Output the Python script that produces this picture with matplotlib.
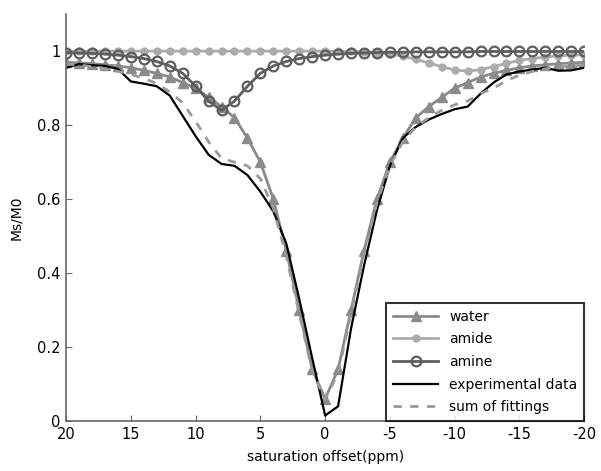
import matplotlib
matplotlib.use("Agg")
import matplotlib.pyplot as plt
import numpy as np

# saturation offsets (ppm), 20 down to -20
offset = list(range(20, -21, -1))

water = [0.970, 0.968, 0.966, 0.963, 0.960, 0.955, 0.948, 0.940, 0.930, 0.915,
         0.900, 0.875, 0.850, 0.820, 0.765, 0.700, 0.600, 0.460, 0.300, 0.140,
         0.060,
         0.140, 0.300, 0.460, 0.600, 0.700, 0.765, 0.820, 0.850, 0.875, 0.900,
         0.915, 0.930, 0.940, 0.948, 0.955, 0.960, 0.963, 0.966, 0.968, 0.970]

amide = [1.0, 1.0, 1.0, 1.0, 1.0, 1.0, 1.0, 1.0, 1.0, 1.0,
         1.0, 1.0, 1.0, 1.0, 1.0, 1.0, 1.0, 1.0, 1.0, 1.0,
         1.0,
         0.999, 0.999, 0.998, 0.996, 0.992, 0.986, 0.978, 0.968, 0.958, 0.949,
         0.946, 0.950, 0.958, 0.967, 0.975, 0.980, 0.984, 0.987, 0.989, 0.990]

amine = [0.996, 0.995, 0.994, 0.992, 0.989, 0.985, 0.980, 0.972, 0.960, 0.940,
         0.905, 0.865, 0.840, 0.865, 0.905, 0.940, 0.960, 0.972, 0.980, 0.985,
         0.989, 0.992, 0.994, 0.995, 0.996, 0.997, 0.997, 0.998, 0.998, 0.998,
         0.998, 0.998, 0.999, 0.999, 0.999, 0.999, 0.999, 0.999, 0.999, 0.999, 0.999]

experimental = [0.955, 0.965, 0.962, 0.960, 0.952, 0.918, 0.912, 0.905, 0.880, 0.825,
                0.770, 0.720, 0.695, 0.690, 0.665, 0.620, 0.567, 0.480, 0.330, 0.170,
                0.015,
                0.040, 0.250, 0.420, 0.570, 0.690, 0.765, 0.795, 0.815, 0.830, 0.843,
                0.850, 0.885, 0.915, 0.937, 0.945, 0.950, 0.955, 0.947, 0.948, 0.955]

fit_sum = [0.965, 0.963, 0.958, 0.953, 0.945, 0.937, 0.927, 0.912, 0.890, 0.860,
           0.810, 0.755, 0.710, 0.700, 0.690, 0.655, 0.575, 0.445, 0.290, 0.135,
           0.058,
           0.130, 0.290, 0.450, 0.590, 0.690, 0.755, 0.795, 0.820, 0.840, 0.855,
           0.865, 0.885, 0.900, 0.920, 0.935, 0.945, 0.952, 0.957, 0.960, 0.962]

xticks = [20, 15, 10, 5, 0, -5, -10, -15, -20]
yticks = [0, 0.2, 0.4, 0.6, 0.8, 1]

fig = plt.figure(figsize=(6.01, 4.71), dpi=100)
ax = fig.add_axes([0.11, 0.106, 0.862, 0.864])

ax.plot(offset, water, color="#8a8a8a", lw=2, marker="^", ms=7,
        mfc="#8a8a8a", mec="#8a8a8a", label="water")
ax.plot(offset, amide, color="#ababab", lw=2, marker="o", ms=5,
        mfc="#ababab", mec="#ababab", label="amide")
ax.plot(offset, amine, color="#5e5e5e", lw=2, marker="o", ms=7,
        mfc="none", mec="#5e5e5e", mew=1.6, label="amine")
ax.plot(offset, experimental, color="black", lw=1.6, label="experimental data")
ax.plot(offset, fit_sum, color="#9a9a9a", lw=2, ls=(0, (3, 3)), label="sum of fittings")

ax.set_xlim(20, -20)
ax.set_ylim(0, 1.1)
ax.set_xticks(xticks)
ax.set_xticklabels([str(t) for t in xticks])
ax.set_yticks(yticks)
ax.set_yticklabels(["0", "0.2", "0.4", "0.6", "0.8", "1"])

for s in ("top", "right"):
    ax.spines[s].set_visible(False)
for s in ("left", "bottom"):
    ax.spines[s].set_color("#666666")
    ax.spines[s].set_linewidth(1.2)
ax.tick_params(direction="in", length=4, color="#666666", labelsize=10.5, pad=4)

ax.set_xlabel("saturation offset(ppm)", fontsize=10, labelpad=6)
ax.set_ylabel("Ms/M0", fontsize=10, labelpad=10)

leg = ax.legend(loc="lower right", fontsize=10, frameon=True, fancybox=False,
                edgecolor="black", handlelength=3.2, borderaxespad=0.0,
                labelspacing=0.62, borderpad=0.5)
leg.get_frame().set_linewidth(1.5)

plt.savefig("out.png", dpi=100)
